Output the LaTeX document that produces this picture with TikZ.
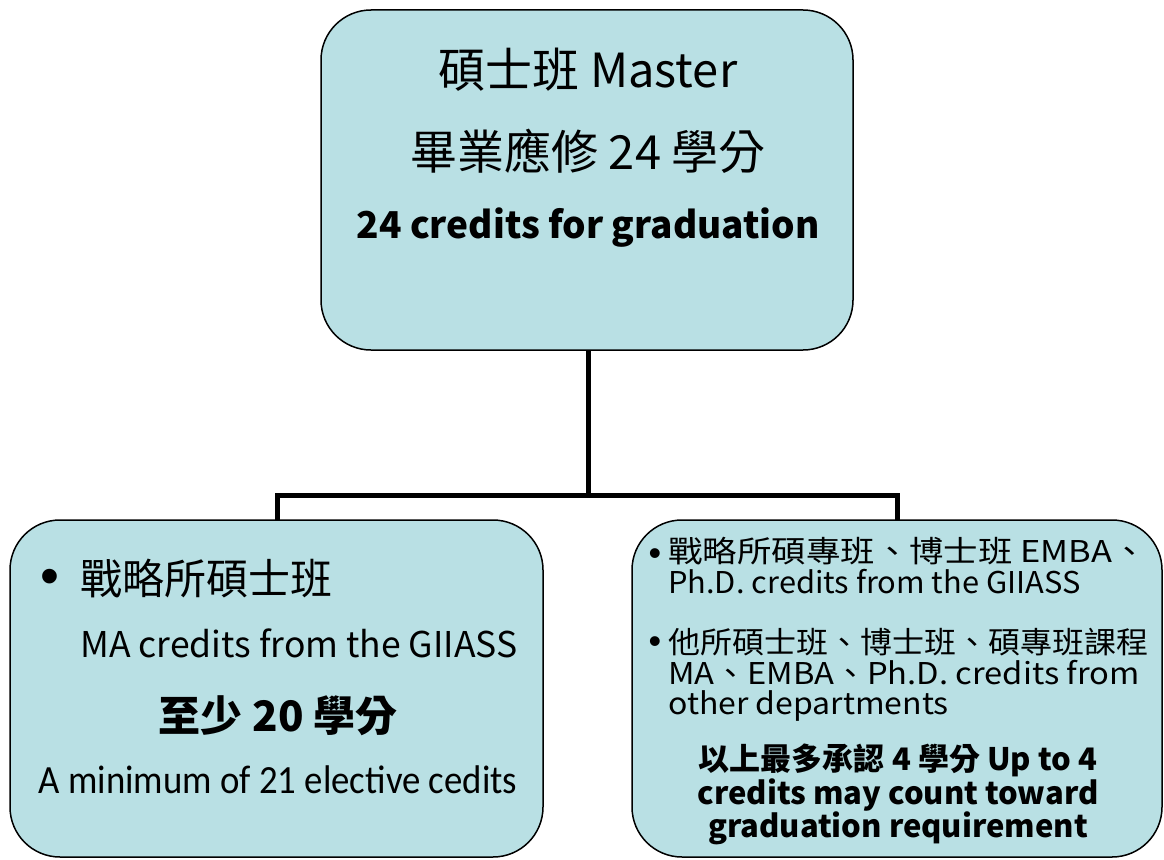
\documentclass[tikz,border=0pt]{standalone}
\usepackage{fontspec}
\setmainfont{Noto Sans CJK TC}
\newfontfamily\calib{Carlito}
\newfontfamily\bulfont{Liberation Sans}
\definecolor{boxfill}{RGB}{185,224,228}
\begin{document}
\begin{tikzpicture}[x=1pt,y=-1pt,
  card/.style={draw=black,line width=1.5pt,fill=boxfill,rounded corners=50pt},
  link/.style={draw=black,line width=5pt},
  txt/.style={inner sep=0pt,anchor=base},
  ltxt/.style={inner sep=0pt,anchor=base west},
  para/.style={inner sep=0pt,anchor=north west,align=left},
  cpara/.style={inner sep=0pt,anchor=north,align=center},
  bul/.style={inner sep=0pt,anchor=center}]
\useasboundingbox (0,0) rectangle (1164,859);
% boxes
\draw[card] (321,10) rectangle (853,350);
\draw[card] (10,520) rectangle (543,857);
\draw[card] (632,520) rectangle (1162,857);
\coordinate (top) at (588,350);
\coordinate (mid) at (588,495);
\coordinate (lj) at (277,495);
\coordinate (rj) at (897,495);
\coordinate (lb) at (277,520);
\coordinate (rb) at (897,520);
\draw[link] (top) -- (mid);
\draw[link,line cap=rect] (lj) -- (rj);
\draw[link] (lj) -- (lb);
\draw[link] (rj) -- (rb);
% top text
\node[txt,font=\fontsize{47}{50}\selectfont] (t1) at (588,88) {碩士班 Master};
\node[txt,font=\fontsize{47}{50}\selectfont] (t2) at (588,169) {畢業應修 24 學分};
\node[txt,font=\bfseries\fontsize{37}{40}\selectfont] (t3) at (588,238) {24 credits for graduation};
% left text
\node[bul,font=\bulfont\fontsize{54}{54}\selectfont] (lbul) at (50,582) {•};
\node[ltxt,font=\fontsize{42}{44}\selectfont] (l1) at (80,594) {戰略所碩士班};
\node[ltxt,font=\fontsize{35.5}{40}\selectfont] (l2) at (80,657) {MA credits from the GIIASS};
\node[txt,font=\bfseries\fontsize{42}{44}\selectfont] (l3) at (278,731) {至少 20 學分};
\node[txt,font=\calib\fontsize{40}{40}\selectfont] (l4) at (278,793) {\scalebox{0.92}[1]{A minimum of 21 elective cedits}};
% right text
\node[bul,font=\bulfont\fontsize{36}{36}\selectfont] (rbul1) at (655,557) {•};
\node[para,font=\fontsize{30}{31}\selectfont] (ra) at (668,537)
  {\scalebox{1.149}[1]{戰略所碩專班、博士班 EMBA、}\\ \scalebox{1.027}[1]{Ph.D. credits from the GIIASS}};
\node[bul,font=\bulfont\fontsize{36}{36}\selectfont] (rbul2) at (655,645) {•};
\node[para,font=\fontsize{30}{30.5}\selectfont] (rb) at (668,628)
  {\scalebox{1.067}[1]{他所碩士班、博士班、碩專班課程}\\ \scalebox{1.09}[1]{MA、EMBA、Ph.D. credits from}\\ \scalebox{1.067}[1]{other departments}};
\node[cpara,font=\bfseries\fontsize{31}{31.5}\selectfont] (rc) at (898,744)
  {以上最多承認 4 學分 Up to 4\\ credits may count toward\\ graduation requirement};
\end{tikzpicture}
\end{document}
